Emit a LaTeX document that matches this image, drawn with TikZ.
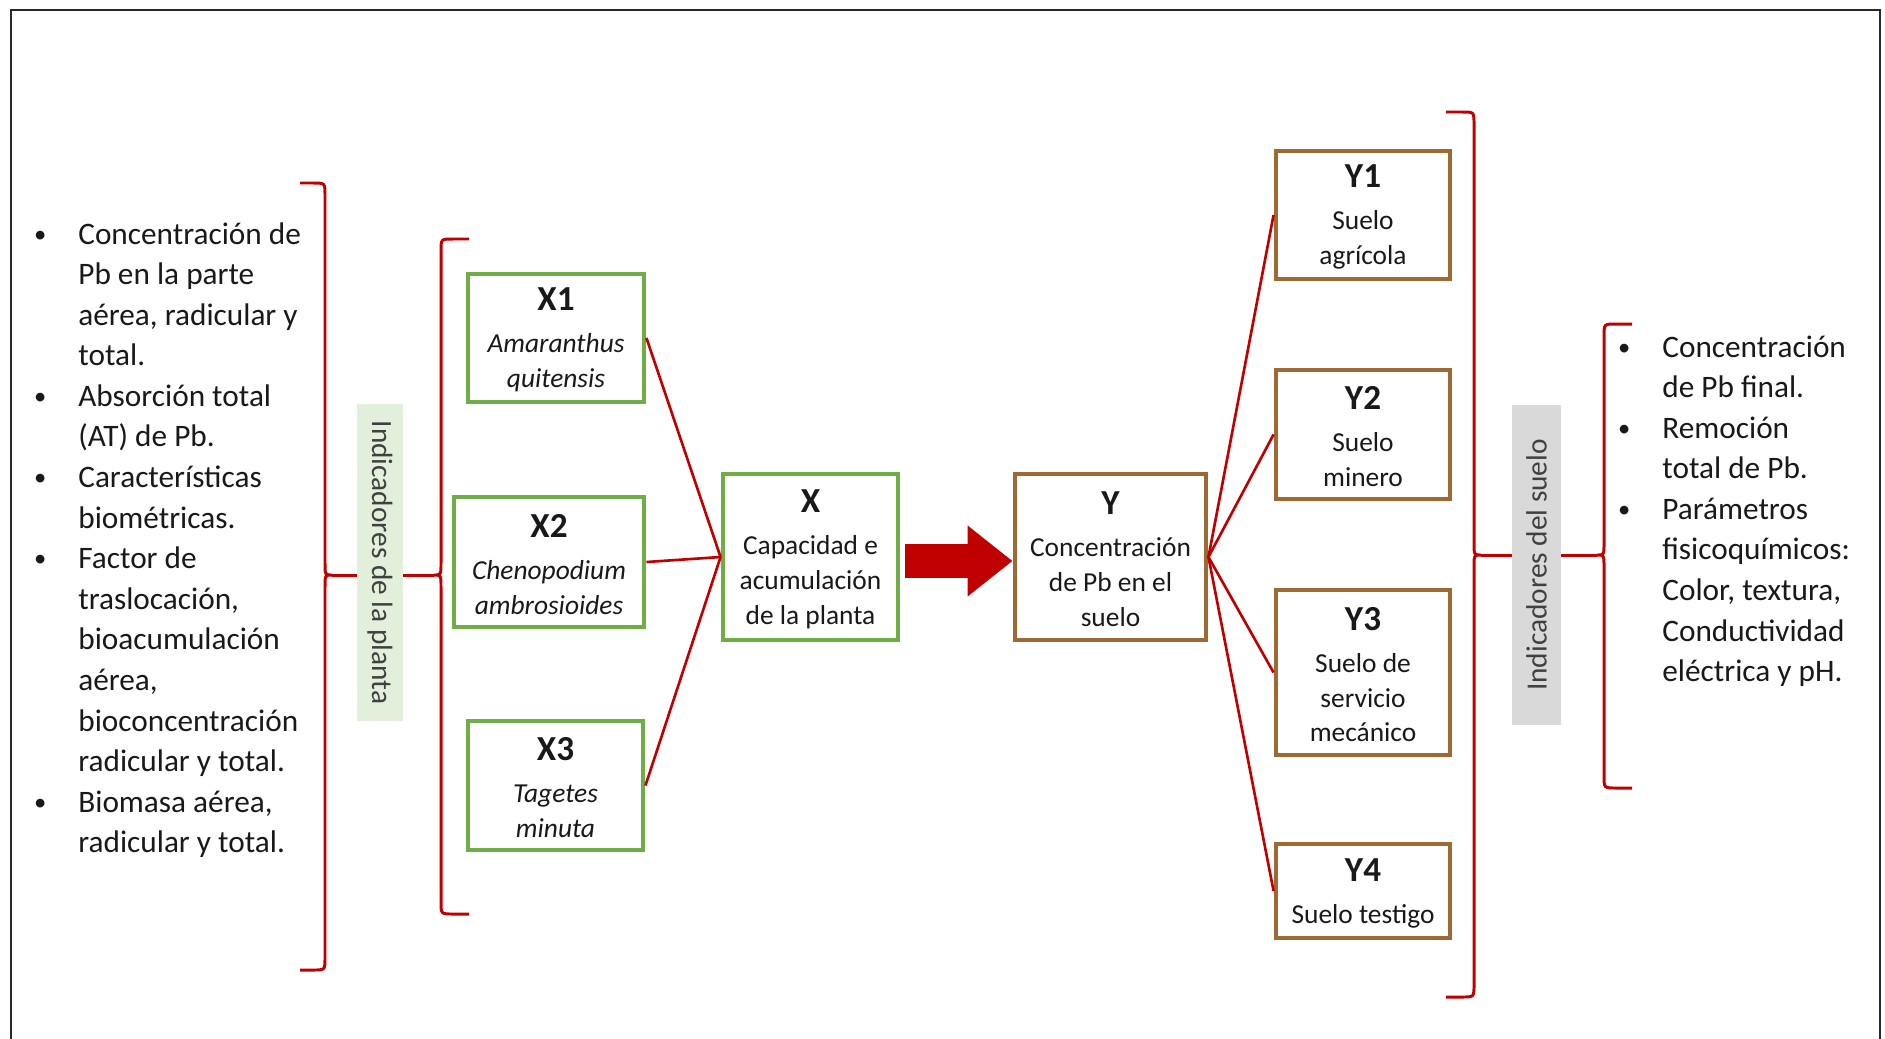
\documentclass[tikz,border=0pt]{standalone}
\usepackage{fontspec}
\usepackage{graphicx}
\setmainfont{Carlito}
\usetikzlibrary{arrows.meta,calc}
\definecolor{gcol}{RGB}{112,173,71}
\definecolor{bcol}{RGB}{158,106,52}
\definecolor{rcol}{RGB}{192,0,0}
\definecolor{txt}{RGB}{25,25,25}
\definecolor{glab}{RGB}{226,239,218}
\definecolor{slab}{RGB}{217,217,217}
\definecolor{labtxt}{RGB}{64,64,64}
\definecolor{framecol}{RGB}{40,40,40}
\newcommand\hdfont{\fontsize{20}{20}\selectfont\bfseries\rule{0pt}{15.5pt}}
\newcommand\bul{\makebox[0.92cm][l]{\hspace{1pt}\raisebox{1pt}{\fontsize{14}{14}\selectfont •}}}
\newcommand\nob{\makebox[0.92cm][l]{}}
\begin{document}
\begin{tikzpicture}[x=0.02cm,y=-0.02cm,
 gbox/.style={draw=gcol,line width=2.8pt,fill=white,align=center,inner sep=0pt,text=txt,font=\fontsize{15.6}{19.9}\selectfont},
 bbox/.style={gbox,draw=bcol},
 link/.style={draw=rcol,line width=1.5pt},
 bracepath/.style={draw=rcol,line width=1.7pt,line join=round},
 lab/.style={inner sep=0pt,text=labtxt,font=\fontsize{16.7}{20}\selectfont},
 listnode/.style={anchor=base west,inner sep=0pt,text=txt,font=\fontsize{17.8}{23.1}\selectfont}
]
\useasboundingbox (0,0) rectangle (1885,1038);
\draw[draw=framecol,line width=1.3pt] (11,1045) -- (11,10) -- (1880,10) -- (1880,1045);

% left list
\node[listnode] (lista) at (32,244) {\begin{tabular}[t]{@{}l@{}l@{}}
\bul&Concentración de\\
\nob&Pb en la parte\\
\nob&aérea, radicular y\\
\nob&total.\\
\bul&Absorción total\\
\nob&(AT) de Pb.\\
\bul&Características\\
\nob&biométricas.\\
\bul&Factor de\\
\nob&traslocación,\\
\nob&bioacumulación\\
\nob&aérea,\\
\nob&bioconcentración\\
\nob&radicular y total.\\
\bul&Biomasa aérea,\\
\nob&radicular y total.
\end{tabular}};

% right list
\node[listnode] (listb) at (1616,357) {\begin{tabular}[t]{@{}l@{}l@{}}
\bul&Concentración\\
\nob&de Pb final.\\
\bul&Remoción\\
\nob&total de Pb.\\
\bul&Parámetros\\
\nob&fisicoquímicos:\\
\nob&Color, textura,\\
\nob&Conductividad\\
\nob&eléctrica y pH.
\end{tabular}};

% labels
\node[lab,fill=glab,minimum width=0.92cm,minimum height=6.34cm] (la) at (380,562.5) {\rotatebox{-90}{Indicadores de la planta}};
\node[lab,fill=slab,minimum width=0.98cm,minimum height=6.4cm] (lb) at (1536.5,565) {\rotatebox{90}{Indicadores del suelo}};

% boxes
\node[gbox,minimum width=3.52cm,minimum height=2.56cm] (x1) at (556,338) {{\hdfont X1}\\[4pt]\textit{Amaranthus}\\\textit{quitensis}};
\node[gbox,minimum width=3.80cm,minimum height=2.60cm] (x2) at (549,562) {{\hdfont X2}\\[4pt]\textit{Chenopodium}\\\textit{ambrosioides}};
\node[gbox,minimum width=3.50cm,minimum height=2.58cm] (x3) at (555.5,785.5) {{\hdfont X3}\\[4pt]\textit{Tagetes}\\\textit{minuta}};
\node[gbox,minimum width=3.50cm,minimum height=3.32cm] (x) at (810.5,557) {{\hdfont X}\\[4pt]Capacidad e\\acumulación\\de la planta};
\node[bbox,minimum width=3.82cm,minimum height=3.32cm] (y) at (1110.5,557) {{\hdfont Y}\\[4pt]Concentración\\de Pb en el\\suelo};
\node[bbox,minimum width=3.48cm,minimum height=2.56cm] (y1) at (1363,215) {{\hdfont Y1}\\[4pt]Suelo\\agrícola};
\node[bbox,minimum width=3.48cm,minimum height=2.58cm] (y2) at (1363,434.5) {{\hdfont Y2}\\[4pt]Suelo\\minero};
\node[bbox,minimum width=3.48cm,minimum height=3.30cm] (y3) at (1363,672.5) {{\hdfont Y3}\\[4pt]Suelo de\\servicio\\mecánico};
\node[bbox,minimum width=3.48cm,minimum height=1.88cm] (y4) at (1363,891) {{\hdfont Y4}\\[4pt]Suelo testigo};

% connectors
\draw[link] (x1.east) -- (x.west);
\draw[link] (x2.east) -- (x.west);
\draw[link] (x3.east) -- (x.west);
\draw[link] (y.east) -- (y1.west);
\draw[link] (y.east) -- (y2.west);
\draw[link] (y.east) -- (y3.west);
\draw[link] (y.east) -- (y4.west);

% big arrow
\draw[rcol,line width=18.8pt,-{Triangle[length=25.6pt,width=38.7pt]}] ([xshift=0.1cm,yshift=-0.08cm]x.east) -- ([xshift=0cm,yshift=-0.08cm]y.west);

% braces
\coordinate (ca) at (332,575);
\coordinate (cb) at (434,575);
\coordinate (cc) at (1481,555);
\coordinate (cd) at (1597,555);
\draw[bracepath] (300,183) -- (313,183) .. controls (325,183) .. (325,195) -- (325,563) .. controls (325,575) .. (ca) .. controls (325,575) .. (325,587) -- (325,958) .. controls (325,970) .. (313,970) -- (300,970);
\draw[bracepath] (469,239) -- (453,239) .. controls (441,239) .. (441,251) -- (441,563) .. controls (441,575) .. (cb) .. controls (441,575) .. (441,587) -- (441,902) .. controls (441,914) .. (453,914) -- (469,914);
\draw[bracepath] (1446,112) -- (1462,112) .. controls (1474,112) .. (1474,124) -- (1474,543) .. controls (1474,555) .. (cc) .. controls (1474,555) .. (1474,567) -- (1474,985) .. controls (1474,997) .. (1462,997) -- (1446,997);
\draw[bracepath] (1632,324) -- (1616,324) .. controls (1604,324) .. (1604,336) -- (1604,543) .. controls (1604,555) .. (cd) .. controls (1604,555) .. (1604,567) -- (1604,776) .. controls (1604,788) .. (1616,788) -- (1632,788);
\draw[bracepath] (ca) -- (ca -| la.west);
\draw[bracepath] (la.east |- cb) -- (cb);
\draw[bracepath] (cc) -- (cc -| lb.west);
\draw[bracepath] (lb.east |- cd) -- (cd);
\end{tikzpicture}
\end{document}
